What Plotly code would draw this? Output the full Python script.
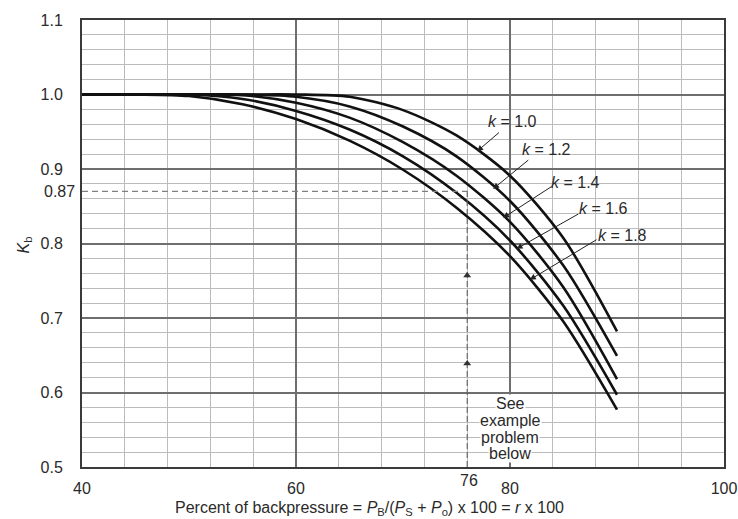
import plotly.graph_objects as go

# ---- data ----
x_pct = [40, 45, 50, 55, 60, 65, 70, 75, 80, 85, 90]
kb_k10 = [1.000, 1.000, 1.000, 1.000, 1.000, 0.997, 0.979, 0.945, 0.891, 0.807, 0.682]
kb_k12 = [1.000, 1.000, 1.000, 1.000, 0.997, 0.984, 0.957, 0.917, 0.857, 0.770, 0.649]
kb_k14 = [1.000, 1.000, 1.000, 0.999, 0.989, 0.969, 0.936, 0.891, 0.829, 0.741, 0.618]
kb_k16 = [1.000, 1.000, 1.000, 0.994, 0.978, 0.953, 0.917, 0.868, 0.804, 0.716, 0.597]
kb_k18 = [1.000, 1.000, 0.998, 0.987, 0.967, 0.938, 0.899, 0.848, 0.783, 0.695, 0.577]
k_labels = ["1.0", "1.2", "1.4", "1.6", "1.8"]

example_x = 76
example_kb = 0.87
x_ticks = [40, 60, 80, 100]
y_ticks = [0.5, 0.6, 0.7, 0.8, 0.9, 1.0, 1.1]

FONT = "Liberation Sans, Arial, sans-serif"
TXT = "#2a2a2a"

fig = go.Figure()

for ys in [kb_k10, kb_k12, kb_k14, kb_k16, kb_k18]:
    fig.add_trace(go.Scatter(x=x_pct, y=ys, mode="lines",
                             line=dict(color="#111111", width=2.6, shape="spline", smoothing=0.8),
                             showlegend=False, hoverinfo="skip"))

# example dashed lines
fig.add_trace(go.Scatter(x=[40, example_x], y=[example_kb, example_kb], mode="lines",
                         line=dict(color="#808080", width=1.2, dash="6px,4px"),
                         showlegend=False, hoverinfo="skip"))
fig.add_trace(go.Scatter(x=[example_x, example_x], y=[0.5, example_kb], mode="lines",
                         line=dict(color="#606060", width=1.1, dash="6px,3px"),
                         showlegend=False, hoverinfo="skip"))
fig.add_trace(go.Scatter(x=[example_x, example_x], y=[0.757, 0.639], mode="markers",
                         marker=dict(symbol="triangle-up", size=7, color="#333333"),
                         showlegend=False, hoverinfo="skip"))

annotations = []
# label text positions (x, y) and arrow tail/head
label_pos = [(80.26, 0.9638), (83.44, 0.9263), (86.15, 0.882), (88.76, 0.8464), (90.54, 0.8109)]
arrow_tail = [(79.11, 0.9506), (81.85, 0.9136), (84.03, 0.8778), (86.52, 0.8406), (88.23, 0.8063)]
arrow_head = [(76.93, 0.9238), (78.42, 0.8733), (79.36, 0.8344), (80.61, 0.7929), (81.85, 0.7513)]
for lab, (lx, ly), (tx, ty), (hx, hy) in zip(k_labels, label_pos, arrow_tail, arrow_head):
    annotations.append(dict(x=lx, y=ly, xref="x", yref="y", text=f"<i>k</i> = {lab}",
                            showarrow=False, font=dict(family=FONT, size=16, color=TXT)))
    annotations.append(dict(x=hx, y=hy, ax=tx, ay=ty, xref="x", yref="y", axref="x", ayref="y",
                            text="", showarrow=True, arrowhead=2, arrowsize=1.2, arrowwidth=1,
                            arrowcolor="#222222", standoff=0, startstandoff=0))

for line, yy in zip(["See", "example", "problem", "below"], [0.5854, 0.5626, 0.5398, 0.5183]):
    annotations.append(dict(x=80, y=yy, xref="x", yref="y", text=line, showarrow=False,
                            font=dict(family=FONT, size=16, color=TXT), bgcolor="white",
                            borderpad=0))

# 0.87 and 76 labels
annotations.append(dict(x=-0.008, y=example_kb, xref="paper", yref="y", text="0.87",
                        xanchor="right", yanchor="middle", showarrow=False,
                        font=dict(family=FONT, size=16, color=TXT)))
annotations.append(dict(x=example_x + 0.2, y=-0.03, xref="x", yref="paper", text="76",
                        xanchor="center", yanchor="middle", showarrow=False,
                        font=dict(family=FONT, size=16, color=TXT)))
# axis titles
annotations.append(dict(x=0.448, y=-0.0924, xref="paper", yref="paper",
                        text="Percent of backpressure = <i>P</i><sub>B</sub>/(<i>P</i><sub>S</sub> + <i>P</i><sub>o</sub>) x 100 = <i>r</i> x 100",
                        xanchor="center", yanchor="middle", showarrow=False,
                        font=dict(family=FONT, size=16, color=TXT)))
annotations.append(dict(x=-0.0903, y=0.4958, xref="paper", yref="paper",
                        text="<i>K</i><sub>b</sub>", textangle=-90,
                        xanchor="center", yanchor="middle", showarrow=False,
                        font=dict(family=FONT, size=16, color=TXT)))

fig.update_layout(
    width=738, height=519, autosize=False,
    margin=dict(l=82, r=13.5, t=19.5, b=52.3, autoexpand=False),
    paper_bgcolor="white", plot_bgcolor="white",
    showlegend=False,
    annotations=annotations,
    xaxis=dict(range=[40, 100], tickvals=x_ticks, ticktext=[str(v) for v in x_ticks],
               automargin=False,
               showgrid=True, gridcolor="#6e6e6e", gridwidth=1.6,
               minor=dict(dtick=4, tick0=40, showgrid=True, gridcolor="#bcbcbc", gridwidth=1.1),
               showline=True, mirror=True, linecolor="#3a3a3a", linewidth=2,
               ticks="", ticklabelstandoff=6, zeroline=False,
               tickfont=dict(family=FONT, size=16, color=TXT)),
    yaxis=dict(range=[0.5, 1.1], tickvals=y_ticks, ticktext=[f"{v:.1f}" for v in y_ticks],
               automargin=False,
               showgrid=True, gridcolor="#6e6e6e", gridwidth=1.6,
               minor=dict(dtick=0.02, tick0=0.5, showgrid=True, gridcolor="#bcbcbc", gridwidth=1.1),
               showline=True, mirror=True, linecolor="#3a3a3a", linewidth=2,
               ticks="", ticklabelstandoff=14, zeroline=False,
               tickfont=dict(family=FONT, size=16, color=TXT)),
)

fig.write_html("out.html", config={"displayModeBar": False, "responsive": False},
               post_script="document.body.style.margin='0';document.body.style.padding='0';document.body.style.overflow='hidden';")
